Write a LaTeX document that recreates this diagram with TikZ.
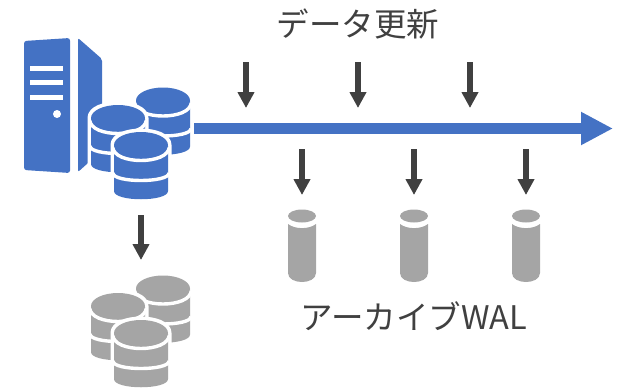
\documentclass[tikz,border=0pt]{standalone}
\usepackage{fontspec}
\setmainfont{Noto Sans CJK JP}
\usetikzlibrary{arrows.meta}
\definecolor{iconblue}{HTML}{4472C4}
\definecolor{icongray}{HTML}{A5A5A5}
\definecolor{inkdark}{HTML}{404040}
\tikzset{
  x=1pt,y=-1pt,
  label text/.style={text=inkdark,font=\fontsize{32.5}{36}\selectfont,inner sep=0pt,anchor=center},
  small arrow/.style={draw=inkdark,line width=5.5pt,-{Triangle[length=16pt,width=16pt]}},
  main arrow/.style={draw=iconblue,line width=11pt,-{Triangle[length=32pt,width=31pt]}},
  gap line/.style={draw=white,line width=3.4pt},
  pics/disk/.style={code={
    % white halo
    \path[draw=white,fill=white,line width=7pt,line join=round]
      (-27,0) .. controls (-27,-17.3) and (27,-17.3) .. (27,0) -- (27,45)
      .. controls (27,57) and (-27,57) .. (-27,45) -- cycle;
    % body
    \fill[#1,rounded corners=1pt] (-27,0) -- (27,0) -- (27,45)
      .. controls (27,57) and (-27,57) .. (-27,45) -- cycle;
    % separating curves
    \draw[gap line] (-28,2) .. controls (-28,20) and (28,20) .. (28,2);
    \draw[gap line] (-28,28) .. controls (-28,38) and (28,38) .. (28,28);
    % top
    \fill[#1] (0,0) ellipse [x radius=27,y radius=13];
  }},
  pics/stack/.style={code={
    \pic at (22,-17.5) {disk=#1};
    \pic at (-23,0) {disk=#1};
    \pic at (0,27) {disk=#1};
  }},
  pics/logcyl/.style={code={
    \fill[icongray] (-14,8) .. controls (-7,13.5) and (7,13.5) .. (14,8) -- (14,57)
      .. controls (14,69) and (-14,69) .. (-14,57) -- cycle;
    \fill[icongray] (0,0) ellipse [x radius=14,y radius=6.5];
  }},
}
\begin{document}
\begin{tikzpicture}
\useasboundingbox (0,0) rectangle (621,389);
% server
\fill[iconblue,rounded corners=2.5pt] (24,41) -- (70,38) -- (70,173) -- (24,170) -- cycle;
\fill[white] (30,66) rectangle (63,71);
\fill[white] (30,80) rectangle (63,84.5);
\fill[white] (30,95) rectangle (63,99.5);
\fill[white] (57,114) circle [radius=4];
\fill[iconblue,rounded corners=2pt] (78,38) -- (102,59) -- (102,150) -- (88,163) -- (78,172) -- cycle;
% database stacks
\pic at (141,118) {stack=iconblue};
\pic at (141,306) {stack=icongray};
% archive cylinders
\pic at (302,216) {logcyl};
\pic at (414,216) {logcyl};
\pic at (526,216) {logcyl};
% timeline
\coordinate (tlstart) at (194,128.5);
\coordinate (tlend) at (613,128.5);
\draw[main arrow] (tlstart) -- (tlend);
% update arrows
\foreach \n/\xx in {a/246,b/358,c/470}{
  \coordinate (up\n) at (\xx,62);
  \coordinate (ue\n) at (\xx,108);
  \draw[small arrow] (up\n) -- (ue\n);
}
\foreach \n/\xx in {a/302,b/414,c/526}{
  \coordinate (wp\n) at (\xx,149);
  \coordinate (we\n) at (\xx,195);
  \draw[small arrow] (wp\n) -- (we\n);
}
\coordinate (bkstart) at (141,215);
\coordinate (bkend) at (141,260);
\draw[small arrow] (bkstart) -- (bkend);
% labels
\node[label text] (update) at (358,24) {データ更新};
\node[label text] (wal) at (414,316) {アーカイブWAL};
\end{tikzpicture}
\end{document}
